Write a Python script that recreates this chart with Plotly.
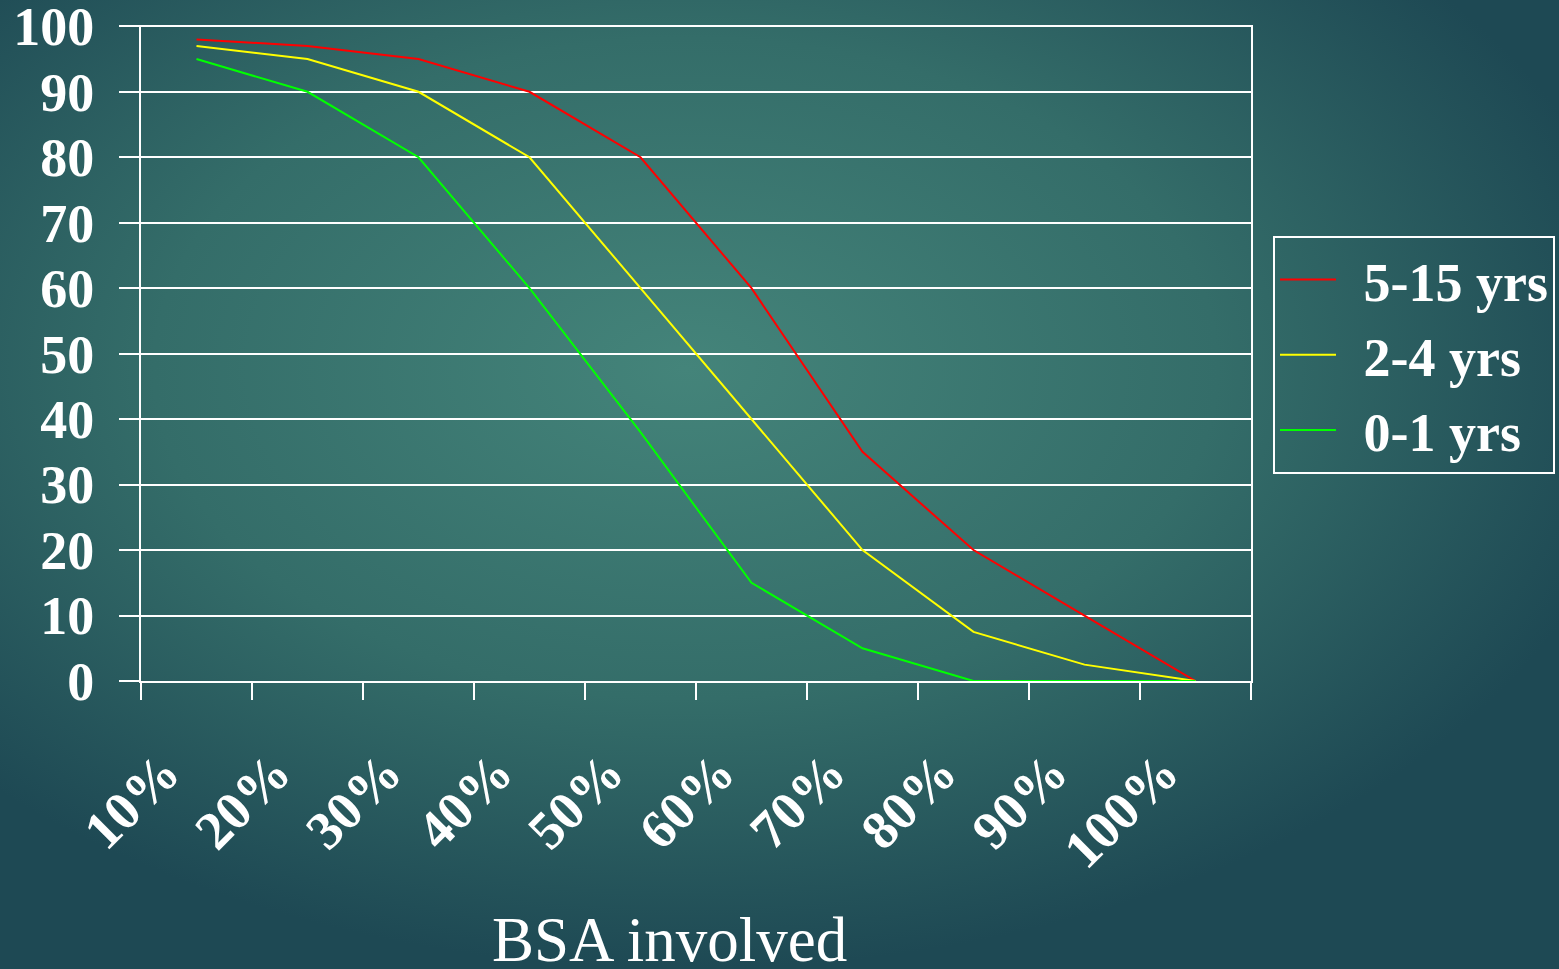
import base64
import plotly.graph_objects as go

categories = ["10%", "20%", "30%", "40%", "50%", "60%", "70%", "80%", "90%", "100%"]
yrs_5_15 = [98, 97, 95, 90, 80, 60, 35, 20, 10, 0]
yrs_2_4 = [97, 95, 90, 80, 60, 40, 20, 7.5, 2.5, 0]
yrs_0_1 = [95, 90, 80, 60, 38, 15, 5, 0, 0, 0]
y_ticks = [0, 10, 20, 30, 40, 50, 60, 70, 80, 90, 100]

W, H = 1559, 969
L, R, T, B = 141, 1251, 25, 681
pw, ph = R - L, B - T

svg = f'''<svg xmlns="http://www.w3.org/2000/svg" width="{W}" height="{H}" viewBox="0 0 {W} {H}" preserveAspectRatio="none">
<defs><radialGradient id="g" cx="0.44" cy="0.38" r="0.62" gradientUnits="objectBoundingBox">
<stop offset="0" stop-color="#44847a"/>
<stop offset="0.55" stop-color="#346d69"/>
<stop offset="1" stop-color="#1e4954"/>
</radialGradient></defs>
<rect width="{W}" height="{H}" fill="url(#g)"/></svg>'''
src = "data:image/svg+xml;base64," + base64.b64encode(svg.encode()).decode()

font = "Liberation Serif, Times New Roman, serif"
NB = "\u00a0\u2006"

fig = go.Figure()
for i, (name, vals, col) in enumerate([("5-15 yrs", yrs_5_15, "#ff0000"),
                                       ("2-4 yrs", yrs_2_4, "#ffff00"),
                                       ("0-1 yrs", yrs_0_1, "#00ff00")]):
    fig.add_trace(go.Scatter(x=categories, y=vals, mode="lines", name=NB + name,
                             legendgroup=f"g{i}",
                             line=dict(color=col, width=2)))

fig.update_layout(
    width=W, height=H,
    margin=dict(l=L, r=W - R, t=T, b=H - B, pad=0, autoexpand=False),
    paper_bgcolor="#24525a",
    plot_bgcolor="rgba(0,0,0,0)",
    showlegend=True,
    legend=dict(x=(1273 - L) / pw, y=(B - 236) / ph, xanchor="left", yanchor="top",
                bordercolor="white", borderwidth=2, bgcolor="rgba(0,0,0,0)",
                font=dict(family=font, size=54, color="white", weight="bold"),
                tracegroupgap=2, itemwidth=56),
    images=[dict(source=src, xref="paper", yref="paper",
                 x=-L / pw, y=1 + T / ph, sizex=W / pw, sizey=H / ph,
                 sizing="stretch", xanchor="left", yanchor="top", layer="below")],
    annotations=[dict(text="BSA involved", xref="paper", yref="paper",
                      x=(669 - L) / pw, y=(B - 940) / ph, xanchor="center", yanchor="middle",
                      showarrow=False, font=dict(family=font, size=63, color="white"))],
)
fig.update_xaxes(type="category", range=[-0.5, len(categories) - 0.5],
                 tickson="boundaries", ticks="outside", ticklen=17,
                 tickwidth=2, tickcolor="white", showline=True, linecolor="white",
                 linewidth=2, showgrid=False, tickangle=-45, automargin=False,
                 ticklabelstandoff=36, ticklabelshift=-33, ticklabeloverflow="allow",
                 tickfont=dict(family=font, size=54, color="white", weight="bold"))
fig.update_yaxes(range=[0, 100.2], tickvals=y_ticks, ticks="outside", ticklen=20,
                 tickwidth=2, tickcolor="white", showline=True, mirror=True,
                 linecolor="white", linewidth=2, showgrid=True, gridcolor="white",
                 gridwidth=2, zeroline=False, ticklabelstandoff=14, automargin=False,
                 ticklabeloverflow="allow",
                 tickfont=dict(family=font, size=54, color="white", weight="bold"))

fig.write_html("out.html", config={"displayModeBar": False},
               post_script="document.body.style.margin='0';document.body.style.overflow='hidden';")
